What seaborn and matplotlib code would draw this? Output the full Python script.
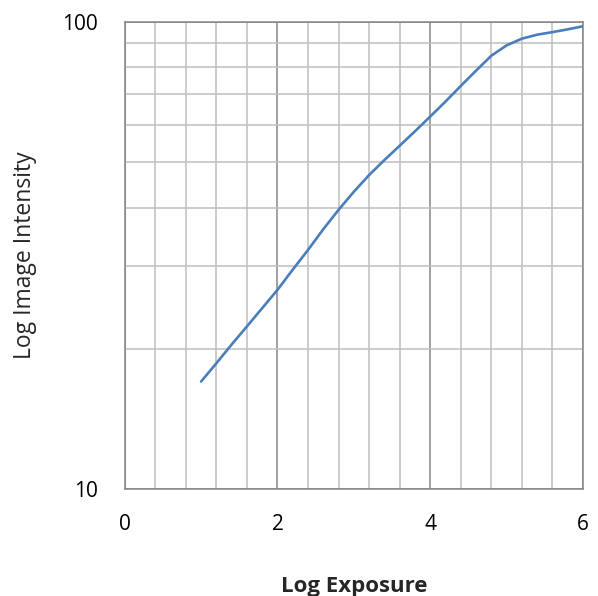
import numpy as np
import pandas as pd
import matplotlib
matplotlib.use("Agg")
import matplotlib.pyplot as plt
import seaborn as sns
from matplotlib.ticker import MultipleLocator, LogLocator, NullFormatter, FixedLocator, FixedFormatter

# Data
log_exposure = [1.0, 1.2, 1.4, 1.6, 1.8, 2.0, 2.2, 2.4, 2.6, 2.8, 3.0, 3.2, 3.4,
                3.6, 3.8, 4.0, 4.2, 4.4, 4.6, 4.8, 5.0, 5.2, 5.4, 5.6, 5.8, 6.0]
image_intensity = [17.0, 18.6, 20.4, 22.3, 24.4, 26.7, 29.5, 32.5, 36.0, 39.6, 43.3, 47.0, 50.6,
                   54.3, 58.3, 62.7, 67.5, 72.9, 78.6, 84.6, 89.0, 92.0, 93.8, 95.0, 96.3, 97.8]
x_ticks = [0, 2, 4, 6]
x_tick_labels = ["0", "2", "4", "6"]
y_ticks = [10, 100]
y_tick_labels = ["10", "100"]
x_label = "Log Exposure"
y_label = "Log Image Intensity"

sns.set_style("white")
plt.rcParams['font.family'] = ['Open Sans', 'DejaVu Sans']

df = pd.DataFrame({"x": log_exposure, "y": image_intensity})

fig = plt.figure(figsize=(5.98, 5.96), dpi=100)
ax = fig.add_axes([0.2085, 0.179, 0.975 - 0.2085, 0.9636 - 0.179])

major_c = "#868686"
minor_c = "#BFBFBF"

ax.set_yscale("log")
ax.set_xlim(0, 6)
ax.set_ylim(10, 100)

ax.xaxis.set_major_locator(FixedLocator(x_ticks))
ax.xaxis.set_major_formatter(FixedFormatter(x_tick_labels))
ax.xaxis.set_minor_locator(MultipleLocator(0.4))
ax.yaxis.set_major_locator(FixedLocator(y_ticks))
ax.yaxis.set_major_formatter(FixedFormatter(y_tick_labels))
ax.yaxis.set_minor_locator(LogLocator(base=10, subs=np.arange(2, 10)))
ax.yaxis.set_minor_formatter(NullFormatter())

ax.grid(which="minor", color=minor_c, linewidth=1.1)
ax.grid(which="major", color=major_c, linewidth=1.1)
ax.set_axisbelow(True)

sns.lineplot(data=df, x="x", y="y", ax=ax, color="#4A7EBB", linewidth=1.9, zorder=3)

for s in ax.spines.values():
    s.set_color(major_c)
    s.set_linewidth(1.1)
    s.set_visible(True)

ax.tick_params(which="major", direction="out", length=6, width=1.1, color=major_c,
               labelsize=15, labelcolor="black")
ax.tick_params(axis="x", which="major", pad=12)
ax.tick_params(axis="y", which="major", pad=13)
ax.tick_params(which="minor", length=0)

ax.set_xlabel(x_label, fontsize=16, fontweight="bold", va="center")
ax.set_ylabel(y_label, fontsize=16.5, va="center")
ax.xaxis.set_label_coords(0.5, -0.207)
ax.yaxis.set_label_coords(-0.2175, 0.5)

fig.savefig("out.png", dpi=100)
